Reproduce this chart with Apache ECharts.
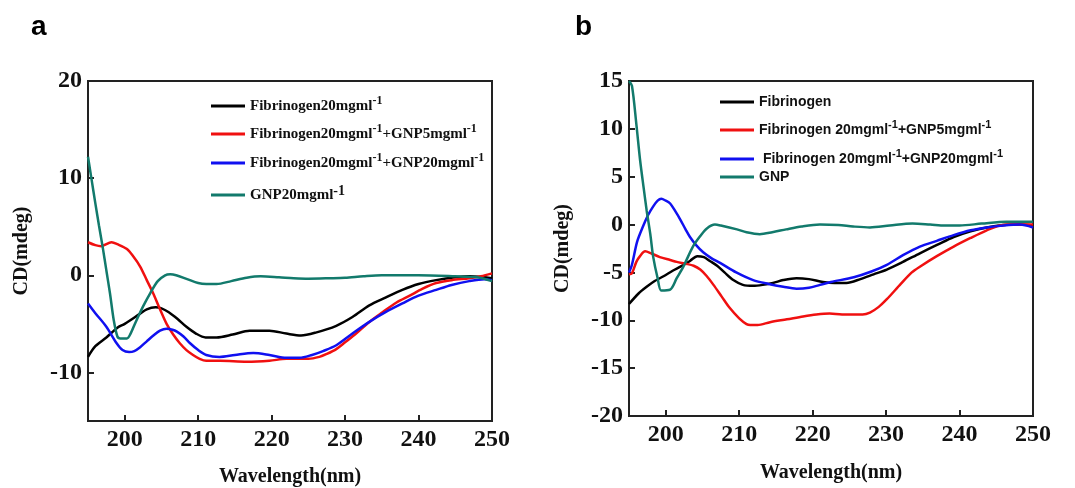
<!DOCTYPE html>
<html>
<head>
<meta charset="utf-8">
<title>CD spectra</title>
<script src="https://cdn.jsdelivr.net/npm/echarts@6.0.0/dist/echarts.min.js"></script>
<style>
     html, body { margin: 0; padding: 0; background: #fff; }
     #chart { width: 1075px; height: 488px; }
</style>
</head>
<body>
<div id="chart"></div>
<script>
// tick values
var xTicks = [200, 210, 220, 230, 240, 250];
var yTicksA = [-10, 0, 10, 20];
var yTicksB = [-20, -15, -10, -5, 0, 5, 10, 15];

// series names
var namesA = ['Fibrinogen20mgml-1', 'Fibrinogen20mgml-1+GNP5mgml-1', 'Fibrinogen20mgml-1+GNP20mgml-1', 'GNP20mgml-1'];
var namesB = ['Fibrinogen', 'Fibrinogen 20mgml-1+GNP5mgml-1', ' Fibrinogen 20mgml-1+GNP20mgml-1', 'GNP'];
var colors = ['#000000', '#f01010', '#1010f0', '#127a6c'];

// panel a  [wavelength, CD]
var aBlack = [[195, -8.4], [196, -7.3], [197.5, -6.4], [199, -5.4], [200, -5.0], [202, -4.0], [203, -3.5], [204.2, -3.3], [205, -3.4], [206, -3.8], [207.2, -4.5], [208.4, -5.3], [209.7, -6.0], [211, -6.4], [212.5, -6.4], [214.7, -6.1], [217, -5.7], [219.7, -5.7], [222, -6.0], [224, -6.2], [226, -5.9], [228.8, -5.2], [231, -4.3], [233.3, -3.1], [235.5, -2.3], [237.8, -1.5], [240, -0.9], [242.4, -0.5], [245, -0.2], [247, -0.1], [250, -0.3]];
var aRed = [[195, 3.4], [196, 3.1], [196.8, 3.0], [198.2, 3.4], [199, 3.2], [200.3, 2.7], [201.2, 1.9], [202.1, 0.9], [203, -0.5], [203.9, -1.9], [204.8, -3.5], [205.7, -5.0], [206.6, -6.1], [207.5, -7.0], [208.4, -7.7], [209.3, -8.2], [210.2, -8.6], [211.1, -8.8], [213, -8.8], [216.6, -8.9], [219.7, -8.8], [222, -8.6], [225, -8.6], [226.5, -8.4], [227.5, -8.1], [228.8, -7.6], [230, -6.9], [231.5, -6.0], [233.3, -4.8], [235.1, -3.8], [237, -2.8], [238.8, -2.1], [240.5, -1.4], [242.4, -0.8], [244.5, -0.5], [246.9, -0.3], [248.5, -0.1], [250, 0.2]];
var aBlue = [[195, -2.9], [196, -3.9], [197.5, -5.3], [198.9, -7.0], [199.7, -7.7], [200.6, -7.9], [201.3, -7.8], [202.1, -7.4], [203, -6.8], [203.9, -6.2], [204.8, -5.7], [205.7, -5.5], [206.5, -5.6], [207.1, -5.8], [208, -6.3], [208.9, -7.0], [210, -7.7], [211.1, -8.2], [212.9, -8.4], [215, -8.2], [217.5, -8.0], [219.7, -8.2], [222, -8.5], [223.8, -8.5], [225.5, -8.2], [227, -7.8], [228.8, -7.2], [231, -6.0], [233.3, -4.8], [235.5, -3.8], [237.8, -2.9], [240, -2.1], [242.4, -1.5], [244.5, -1.0], [246.9, -0.6], [249, -0.4], [250, -0.5]];
var aTeal = [[195, 12.2], [195.5, 9.8], [196, 7.4], [196.5, 5.1], [197, 2.9], [197.5, 0.5], [198, -1.9], [198.5, -4.6], [199, -6.3], [199.4, -6.5], [200.3, -6.5], [200.8, -6.0], [201.5, -4.8], [202.5, -3.2], [203.5, -1.8], [204.5, -0.6], [205.5, 0.0], [206.2, 0.1], [207, 0.0], [208.5, -0.4], [210, -0.8], [211.1, -0.9], [212.5, -0.9], [214.5, -0.6], [216.6, -0.25], [218.5, -0.1], [221, -0.2], [223, -0.3], [225, -0.35], [228, -0.3], [230, -0.25], [232.5, -0.1], [235, 0.0], [240, 0.0], [245, -0.1], [248, -0.2], [250, -0.6]];

// panel b  [wavelength, CD]
var bBlack = [[195, -8.3], [196.3, -7.2], [197.4, -6.5], [198.5, -5.9], [199.7, -5.4], [201, -4.8], [202, -4.4], [203.3, -3.8], [204.3, -3.3], [205.2, -3.4], [206, -3.8], [207, -4.3], [208, -5.0], [209.2, -5.8], [210.5, -6.3], [211.9, -6.4], [213.2, -6.3], [214.6, -6.1], [216, -5.8], [217.8, -5.6], [219.5, -5.7], [221.4, -6.0], [223, -6.1], [224.6, -6.1], [226.5, -5.7], [228.3, -5.2], [230.1, -4.7], [232.3, -3.9], [234.6, -3.0], [237, -2.1], [239.2, -1.3], [241.5, -0.7], [243.7, -0.3], [246, -0.05], [248.2, 0.0], [250, -0.1]];
var bRed = [[195, -5.2], [195.4, -5.1], [196, -3.9], [196.5, -3.3], [197.2, -2.8], [198, -3.0], [199.2, -3.4], [200.6, -3.7], [201.5, -3.9], [202.8, -4.1], [203.8, -4.3], [204.7, -4.7], [205.6, -5.4], [206.5, -6.3], [207.6, -7.5], [208.7, -8.7], [210, -9.8], [211, -10.4], [211.5, -10.5], [212.5, -10.5], [214.2, -10.2], [216.5, -9.9], [218.7, -9.6], [220.5, -9.4], [222.3, -9.3], [224, -9.4], [225.6, -9.4], [226.8, -9.4], [227.8, -9.2], [229, -8.6], [230.1, -7.8], [232, -6.2], [233.5, -5.0], [234.6, -4.4], [236.9, -3.3], [239.2, -2.3], [241.5, -1.4], [243.7, -0.6], [245.5, -0.1], [247.5, 0.0], [250, 0.0]];
var bBlue = [[195, -5.0], [195.4, -4.2], [196.1, -1.8], [196.9, -0.2], [197.6, 1.0], [198.3, 1.9], [198.9, 2.5], [199.4, 2.7], [200, 2.5], [200.6, 2.2], [201.3, 1.4], [202, 0.5], [202.7, -0.5], [203.3, -1.3], [204.2, -2.2], [205.1, -2.9], [206.2, -3.5], [207.4, -4.0], [209.6, -5.0], [211.9, -5.8], [214, -6.2], [216, -6.5], [217.8, -6.7], [219.5, -6.6], [221, -6.3], [222.5, -6.0], [225.6, -5.5], [228, -4.9], [230.1, -4.2], [232.3, -3.2], [234.6, -2.3], [236.9, -1.7], [239.2, -1.1], [241.5, -0.6], [243.7, -0.3], [246, -0.1], [248.2, 0.0], [250, -0.3]];
var bTeal = [[195, 15], [195.4, 14.5], [196, 10.5], [196.5, 6.8], [197, 3.8], [197.4, 1.5], [197.9, -1.0], [198.3, -3.4], [198.9, -5.6], [199.4, -6.9], [200.6, -6.8], [201.5, -5.6], [202.4, -4.4], [203.7, -2.3], [204.7, -1.2], [205.6, -0.4], [206.7, 0.0], [207.5, -0.1], [209.7, -0.5], [211, -0.8], [212.8, -1.0], [214.5, -0.8], [216.4, -0.5], [218.5, -0.2], [221, 0.0], [223.5, -0.05], [225.5, -0.2], [227.8, -0.3], [230.5, -0.1], [233.6, 0.1], [236, 0.0], [238, -0.1], [240, -0.1], [243, 0.1], [246.4, 0.3], [250, 0.3]];

var serif = 'Liberation Serif';
var sans = 'Liberation Sans';

function xAxisOf(gridIndex, gap) {
     return {
          type: 'value',
          gridIndex: gridIndex,
          min: 195,
          max: 250,
          name: 'Wavelength(nm)',
          nameLocation: 'middle',
          nameGap: gap,
          nameTextStyle: { fontFamily: serif, fontWeight: 'bold', fontSize: 20, color: '#111' },
          axisLine: { onZero: false, lineStyle: { color: '#222', width: 2 } },
          axisTick: { inside: true, length: 6, lineStyle: { color: '#222', width: 2 }, customValues: xTicks },
          axisLabel: { margin: 7, fontFamily: serif, fontWeight: 'bold', fontSize: 24, color: '#111', customValues: xTicks },
          splitLine: { show: false }
     };
}

function yAxisOf(gridIndex, min, max, ticks) {
     return {
          type: 'value',
          gridIndex: gridIndex,
          min: min,
          max: max,
          name: 'CD(mdeg)',
          nameLocation: 'middle',
          nameGap: 56,
          nameTextStyle: { fontFamily: serif, fontWeight: 'bold', fontSize: 20, color: '#111' },
          axisLine: { onZero: false, lineStyle: { color: '#222', width: 2 } },
          axisTick: { inside: true, length: 6, lineStyle: { color: '#222', width: 2 }, customValues: ticks },
          axisLabel: { margin: 6, fontFamily: serif, fontWeight: 'bold', fontSize: 24, color: '#111', customValues: ticks },
          splitLine: { show: false }
     };
}

function lineOf(name, data, color, idx) {
     return {
          name: name,
          type: 'line',
          xAxisIndex: idx,
          yAxisIndex: idx,
          data: data,
          smooth: 0.3,
          symbol: 'none',
          lineStyle: { color: color, width: 2.5 },
          itemStyle: { color: color }
     };
}

// 上标 -1
function supFormat(name) {
     return name.replace(/-1/g, '{s|-1}');
}

// one legend per entry, so each row sits where it does in the figure
function legendOf(name, left, top, font, size, supSize) {
     return {
          data: [name],
          left: left,
          top: top,
          padding: 0,
          orient: 'vertical',
          icon: 'rect',
          itemWidth: 34,
          itemHeight: 3,
          selectedMode: false,
          formatter: supFormat,
          textStyle: {
               fontFamily: font,
               fontWeight: 'bold',
               fontSize: size,
               lineHeight: 22,
               color: '#111',
               rich: {
                    s: { fontFamily: font, fontWeight: 'bold', fontSize: supSize, lineHeight: 12, verticalAlign: 'top', color: '#111' }
               }
          }
     };
}

var chart = echarts.init(document.getElementById('chart'));

var option = {
     backgroundColor: '#fff',
     animation: false,
     title: [
          { text: 'a', left: 26, top: 8, textStyle: { fontFamily: sans, fontWeight: 'bold', fontSize: 28, color: '#000' } },
          { text: 'b', left: 570, top: 8, textStyle: { fontFamily: sans, fontWeight: 'bold', fontSize: 28, color: '#000' } }
     ],
     grid: [
          { left: 88, top: 81, width: 404, height: 340, outerBoundsMode: 'none', show: true, borderColor: '#222', borderWidth: 2, backgroundColor: 'transparent' },
          { left: 629, top: 81, width: 404, height: 335, outerBoundsMode: 'none', show: true, borderColor: '#222', borderWidth: 2, backgroundColor: 'transparent' }
     ],
     xAxis: [xAxisOf(0, 46), xAxisOf(1, 47)],
     yAxis: [yAxisOf(0, -15, 20, yTicksA), yAxisOf(1, -20, 15, yTicksB)],
     legend: [
          legendOf(namesA[0], 211, 95, serif, 15, 12),
          legendOf(namesA[1], 211, 123, serif, 15, 12),
          legendOf(namesA[2], 211, 152, serif, 15, 12),
          legendOf(namesA[3], 211, 184, serif, 15, 14),
          legendOf(namesB[0], 720, 91, sans, 14, 11),
          legendOf(namesB[1], 720, 119, sans, 14, 11),
          legendOf(namesB[2], 720, 148, sans, 14, 11),
          legendOf(namesB[3], 720, 166, sans, 14, 11)
     ],
     series: [
          lineOf(namesA[0], aBlack, colors[0], 0),
          lineOf(namesA[1], aRed, colors[1], 0),
          lineOf(namesA[2], aBlue, colors[2], 0),
          lineOf(namesA[3], aTeal, colors[3], 0),
          lineOf(namesB[0], bBlack, colors[0], 1),
          lineOf(namesB[1], bRed, colors[1], 1),
          lineOf(namesB[2], bBlue, colors[2], 1),
          lineOf(namesB[3], bTeal, colors[3], 1)
     ]
};

chart.setOption(option);
</script>
</body>
</html>
